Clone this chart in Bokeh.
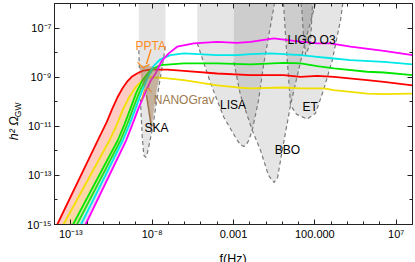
import math
from bokeh.plotting import figure
from bokeh.models import FixedTicker, LogAxis, Label
from bokeh.embed import file_html
from bokeh.resources import INLINE
from bokeh.core.properties import value

FONT = "Liberation Sans"

# ---- data: log10(f/Hz) and log10(h^2 Omega_GW) ----
red_lf = [-13.83, -11.34, -10.80, -10.44, -10.13, -9.82, -9.51, -9.21, -8.90, -8.53, -8.10, -7.07, -6.05, -4.00, -1.95, 0.09, 1.12, 2.15, 3.17, 5.22, 6.24, 8.0]
red_lo = [-15.0, -11.57, -10.84, -10.27, -9.82, -9.45, -9.16, -8.96, -8.84, -8.73, -8.69, -8.69, -8.74, -8.85, -8.92, -8.92, -8.99, -8.95, -8.99, -9.12, -9.19, -9.33]

yel_lf = [-13.45, -10.62, -10.19, -9.82, -9.45, -9.02, -8.59, -8.10, -7.07, -6.05, -4.00, -2.77, -1.95, 0.09, 1.12, 2.55, 3.17, 5.22, 6.24, 8.0]
yel_lo = [-15.0, -11.57, -10.96, -10.35, -9.86, -9.41, -9.12, -9.00, -9.05, -9.12, -9.33, -9.42, -9.46, -9.42, -9.46, -9.46, -9.53, -9.67, -9.69, -9.67]

grn_lf = [-12.86, -10.11, -9.70, -9.33, -8.96, -8.59, -8.10, -7.49, -6.05, -4.00, -1.95, 0.09, 1.12, 2.15, 3.17, 5.22, 6.24, 8.0]
grn_lo = [-15.0, -11.57, -10.92, -10.27, -9.61, -9.12, -8.71, -8.51, -8.44, -8.44, -8.48, -8.42, -8.44, -8.55, -8.645, -8.78, -8.81, -8.92]

gr2_lf = [-12.62, -9.94, -9.51, -9.14, -8.78, -8.41, -7.98, -7.49]
gr2_lo = [-15.0, -11.57, -10.88, -10.22, -9.61, -9.08, -8.71, -8.51]

cyn_lf = [-12.37, -9.80, -9.39, -9.02, -8.65, -8.28, -7.92, -7.49, -6.87, -6.05, -4.00, -2.77, -1.95, -0.72, 0.09, 1.12, 2.15, 3.17, 4.19, 6.24, 8.0]
cyn_lo = [-15.0, -11.57, -10.92, -10.27, -9.61, -9.04, -8.55, -8.27, -8.10, -8.03, -8.10, -8.10, -8.06, -8.03, -8.06, -8.10, -8.17, -8.24, -8.31, -8.38, -8.48]

mag_lf = [-12.09, -9.59, -9.21, -8.84, -8.41, -8.10, -7.79, -7.42, -6.98, -6.46, -5.44, -4.00, -2.77, -1.95, -0.52, 0.71, 2.15, 2.96, 4.19, 6.24, 8.0]
mag_lo = [-15.0, -11.57, -10.92, -10.27, -9.61, -9.16, -8.85, -8.35, -8.03, -7.76, -7.62, -7.56, -7.60, -7.56, -7.42, -7.52, -7.62, -7.62, -7.76, -7.93, -8.10]

# detector sensitivity curves
ska_lf = [-8.82, -8.76, -8.71, -8.61, -8.51, -8.39, -8.30, -7.995, -7.59, -7.28, -7.18]
ska_lo = [-7.90, -9.20, -10.06, -11.44, -12.18, -12.27, -12.11, -11.16, -9.40, -8.17, -7.69]

lisa_lf = [-5.23, -4.41, -3.595, -2.77, -2.57, -2.365, -2.20, -2.06, -1.85, -1.46, -1.155, -0.85, -0.48]
lisa_lo = [-7.61, -9.245, -10.63, -11.57, -11.75, -11.82, -11.74, -11.57, -11.16, -9.94, -8.51, -7.37, -5.98]

bbo_lf = [-2.98, -2.57, -1.85, -1.34, -0.85, -0.52, -0.30, -0.005, 0.505, 1.0, 1.43, 1.80, 2.04]
bbo_lo = [-8.39, -9.735, -11.16, -11.98, -13.0, -13.29, -13.12, -11.98, -10.14, -8.71, -7.49, -6.59, -5.98]

et_lf = [0.07, 0.26, 0.505, 0.87, 1.53, 2.04, 2.53, 3.07, 3.58, 3.72]
et_lo = [-5.98, -7.90, -10.14, -10.51, -10.71, -10.47, -9.53, -8.31, -6.67, -5.98]

ligo_lf = [1.15, 1.21, 1.30, 1.43, 1.55, 1.73, 1.86]
ligo_lo = [-5.98, -6.35, -7.29, -8.10, -7.90, -7.61, -5.98]

# pulsar timing constraints
ppta_lf = [-8.07, -8.35]
ppta_lo = [-7.86, -8.47]
ppta2_lf = [-8.90, -8.53, -8.16]
ppta2_lo = [-8.39, -8.63, -8.47]
ppta3_lf = [-8.65, -8.47, -8.22, -8.04]
ppta3_lo = [-9.94, -9.53, -9.45, -9.61]
nano_lf = [-8.78, -8.28, -7.73, -7.49, -7.73, -8.04, -8.28, -8.65]
nano_lo = [-8.55, -8.51, -8.63, -8.76, -9.53, -11.04, -9.94, -9.12]
nano2_lf = [-8.35, -8.04]
nano2_lo = [-9.735, -11.04]

# text labels
lab_text = ["SKA", "LISA", "BBO", "ET", "LIGO O3"]
lab_lf = [-8.47, -3.03, 0.32, 1.715, 1.80]
lab_lo = [-11.09, -10.14, -11.98, -10.21, -7.49]

x_major = [1e-13, 1e-8, 1e-3, 1e2, 1e7]
x_major_labels = ["10⁻¹³", "10⁻⁸", "0.001", "100.000", "10⁷"]
y_major = [1e-15, 1e-13, 1e-11, 1e-9, 1e-7]
y_major_labels = ["10⁻¹⁵", "10⁻¹³", "10⁻¹¹", "10⁻⁹", "10⁻⁷"]
x_minor_exp = list(range(-14, 9))
y_minor_exp = list(range(-15, -5))

TOP = -5.0  # above the plotted range, for filling detector regions to the top


def pw(a):
    return [10.0 ** v for v in a]


p = figure(width=415, height=262, x_axis_type="log", y_axis_type="log",
           x_range=(1e-14, 1e8), y_range=(1e-15, 1e-6),
           output_backend="svg", toolbar_location=None,
           min_border_left=54, min_border_right=3, min_border_top=3, min_border_bottom=38)
p.grid.visible = False
p.outline_line_color = "#222222"
p.outline_line_width = 1

xt = FixedTicker(ticks=x_major, minor_ticks=pw(x_minor_exp))
yt = FixedTicker(ticks=y_major, minor_ticks=pw(y_minor_exp))


def style_axis(ax, labels=True):
    ax.major_tick_in = 5
    ax.major_tick_out = 0
    ax.minor_tick_in = 3
    ax.minor_tick_out = 0
    ax.axis_line_color = "#222222"
    ax.major_tick_line_color = "#222222"
    ax.minor_tick_line_color = "#222222"
    ax.major_label_text_font = FONT
    ax.major_label_text_color = "black"
    if labels:
        ax.major_label_text_font_size = "11px"
        ax.major_label_standoff = 3
    else:
        ax.major_label_text_font_size = "1px"
        ax.major_label_text_alpha = 0
        ax.major_label_standoff = 0


p.xaxis.ticker = xt
p.yaxis.ticker = yt
p.xaxis.major_label_overrides = dict(zip(x_major, x_major_labels))
p.yaxis.major_label_overrides = dict(zip(y_major, y_major_labels))
style_axis(p.xaxis[0])
style_axis(p.yaxis[0])

top_ax = LogAxis(ticker=xt)
right_ax = LogAxis(ticker=yt)
style_axis(top_ax, labels=False)
style_axis(right_ax, labels=False)
p.add_layout(top_ax, "above")
p.add_layout(right_ax, "right")

# ---- detector regions (filled to the top) ----
for lf, lo in [(ska_lf, ska_lo), (lisa_lf, lisa_lo), (bbo_lf, bbo_lo), (et_lf, et_lo), (ligo_lf, ligo_lo)]:
    xs = pw(lf) + [10.0 ** lf[-1], 10.0 ** lf[0]]
    ys = pw(lo) + [10.0 ** TOP, 10.0 ** TOP]
    p.patch(xs, ys, fill_color="black", fill_alpha=0.1, line_alpha=0)
for lf, lo in [(ska_lf, ska_lo), (lisa_lf, lisa_lo), (bbo_lf, bbo_lo), (et_lf, et_lo), (ligo_lf, ligo_lo)]:
    p.line(pw(lf), pw(lo), line_color="#7a7a7a", line_width=1.2, line_dash="4 3")

# ---- coloured bands on the rising part ----
CUT = -8.5
pairs = [((red_lf, red_lo), (yel_lf, yel_lo), "#ffc6bd"),
         ((yel_lf, yel_lo), (grn_lf, grn_lo), "#ffd29c"),
         ((grn_lf, grn_lo), (gr2_lf, gr2_lo), "#d9ea8c"),
         ((gr2_lf, gr2_lo), (cyn_lf, cyn_lo), "#c4f0c4"),
         ((cyn_lf, cyn_lo), (mag_lf, mag_lo), "#e4d4f2")]
for (alf, alo), (blf, blo), col in pairs:
    ia = [i for i, v in enumerate(alf) if v <= CUT]
    ib = [i for i, v in enumerate(blf) if v <= CUT]
    xs = [10.0 ** alf[i] for i in ia] + [10.0 ** blf[i] for i in reversed(ib)]
    ys = [10.0 ** alo[i] for i in ia] + [10.0 ** blo[i] for i in reversed(ib)]
    p.patch(xs, ys, fill_color=col, fill_alpha=0.9, line_alpha=0)

for lf, lo, col in [(yel_lf, yel_lo, "#f2e000"), (red_lf, red_lo, "#ff0000"),
                    (grn_lf, grn_lo, "#00e600"), (gr2_lf, gr2_lo, "#22dd22"),
                    (cyn_lf, cyn_lo, "#00e8e8"), (mag_lf, mag_lo, "#ff00ff")]:
    p.line(pw(lf), pw(lo), line_color=col, line_width=1.8)

# ---- PTA constraints ----
p.patch(pw(nano_lf), pw(nano_lo), fill_color="#9c7448", fill_alpha=0.45, line_alpha=0)
p.line(pw(nano2_lf), pw(nano2_lo), line_color="#9c7448", line_width=1.5)
p.line(pw(ppta_lf), pw(ppta_lo), line_color="#ff8c1a", line_width=1.5)
p.line(pw(ppta2_lf), pw(ppta2_lo), line_color="#ff8c1a", line_width=1.2)
p.line(pw(ppta3_lf), pw(ppta3_lo), line_color="#e08a30", line_width=1.2)

p.text(x=[10.0 ** -9.02], y=[10.0 ** -7.73], text=["PPTA"], text_color="#ff8a1e",
       text_font=value(FONT), text_font_size="12px", text_align="left", text_baseline="middle")
p.text(x=[10.0 ** -7.90], y=[10.0 ** -9.94], text=["NANOGrav"], text_color="#9c7a50",
       text_font=value(FONT), text_font_size="12px", text_align="left", text_baseline="middle")
p.text(x=pw(lab_lf), y=pw(lab_lo), text=lab_text, text_color="black",
       text_font=value(FONT), text_font_size="12px",
       text_align=["left", "center", "center", "center", "center"], text_baseline="middle")

# ---- axis titles, in the side panels (the centre is clipped to the frame) ----
common = dict(x_units="data", y_units="data", text_font=FONT, text_color="black")
p.add_layout(Label(x=10.0 ** -16.46, y=10.0 ** -11.57, text="h² Ω", angle=math.pi / 2, text_align="left",
                   text_baseline="middle", text_font_size="12.5px", text_font_style="italic", **common), "left")
p.add_layout(Label(x=10.0 ** -16.27, y=10.0 ** -10.63, text="GW", angle=math.pi / 2, text_align="left",
                   text_baseline="middle", text_font_size="8.5px", **common), "left")
p.add_layout(Label(x=10.0 ** -3.86, y=10.0 ** -16.42, text="f(Hz)", text_align="left", text_baseline="middle",
                   text_font_size="12.5px", **common), "below")

open("out.html", "w").write(file_html(p, INLINE))
